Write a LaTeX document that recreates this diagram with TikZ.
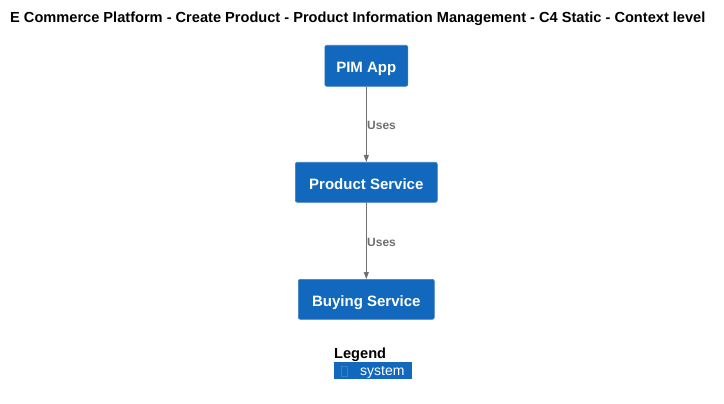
\documentclass[tikz,border=0pt]{standalone}
\usepackage{fontspec}
\setmainfont{Liberation Sans}
\usetikzlibrary{arrows.meta}
\definecolor{sysblue}{HTML}{1168BD}
\definecolor{sysborder}{HTML}{3C7FC0}
\definecolor{relgray}{HTML}{707070}
\tikzset{
  sysbox/.style={draw=sysborder, fill=sysblue, rounded corners=2pt, text=white, font=\bfseries\fontsize{15}{17}\selectfont, inner sep=0pt, anchor=north west, line width=0.6pt, text height=16pt, text depth=2pt},
  rel/.style={draw=relgray, line width=0.8pt, -{Triangle[length=7pt,width=5pt]}},
  rellabel/.style={text=relgray, font=\bfseries\fontsize{12}{14}\selectfont, anchor=west, inner sep=0pt, yshift=-1.5pt},
}
\begin{document}
\begin{tikzpicture}[x=1pt,y=-1pt]
\useasboundingbox (0,0) rectangle (724,404);
\fill[white] (0,0) rectangle (724,404);
\node[anchor=west, inner sep=0pt, font=\bfseries\fontsize{14.6}{17}\selectfont] (title) at (10,19) {E Commerce Platform - Create Product - Product Information Management - C4 Static - Context level};
\node[sysbox, minimum width=83pt, minimum height=41pt] (pim) at (324.5,45) {PIM App};
\node[sysbox, minimum width=142pt, minimum height=40pt] (prod) at (295,162) {Product Service};
\node[sysbox, minimum width=136pt, minimum height=40pt] (buy) at (298,279) {Buying Service};
\draw[rel] (pim.south) -- (pim.south |- prod.north) node[pos=0.5, rellabel, xshift=0.5pt] (l1) {Uses};
\draw[rel] (prod.south) -- (prod.south |- buy.north) node[pos=0.5, rellabel, xshift=0.5pt] (l2) {Uses};
\node[anchor=west, inner sep=0pt, font=\bfseries\fontsize{14.6}{17}\selectfont] (legend) at (334,354.5) {Legend};
\node[fill=sysblue, anchor=north west, minimum width=78pt, minimum height=17pt, inner sep=0pt] (legbox) at (334,362) {};
\draw[sysborder, line width=0.6pt] (341.5,366.5) rectangle (347.5,376.5);
\node[anchor=west, inner sep=0pt, text=white, font=\fontsize{14}{16}\selectfont] (legtext) at (360,372.5) {system};
\end{tikzpicture}
\end{document}
